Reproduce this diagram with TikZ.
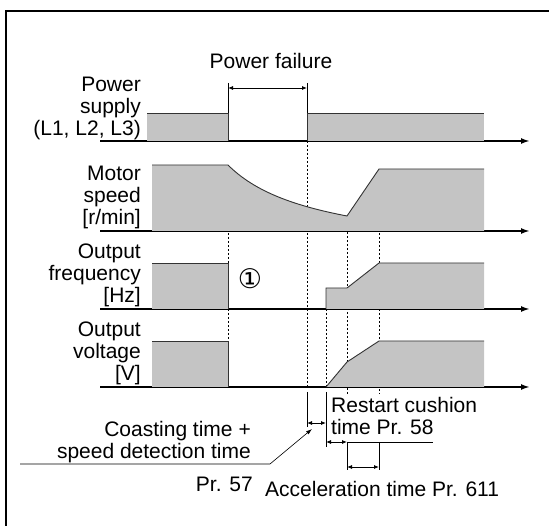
\documentclass[tikz,border=0pt]{standalone}
\usepackage{fontspec}
\setmainfont{Liberation Sans}
\newfontfamily\symfont{DejaVu Sans}
\usepackage{xcolor}
\usetikzlibrary{arrows.meta}

\definecolor{wavegray}{RGB}{196,196,196}

\begin{document}
\begin{tikzpicture}[x=1pt, y=-1pt,
    wave/.style={fill=wavegray, draw=none},
    edge/.style={draw=black!80, line width=0.9pt},
    axis/.style={line width=1.8pt, -{Latex[length=9pt,width=6pt]}},
    guide/.style={line width=0.6pt, dash pattern=on 2.5pt off 1.5pt},
    dim/.style={line width=0.6pt},
    dimarr/.style={line width=0.8pt, {Latex[length=5pt,width=4pt]}-{Latex[length=5pt,width=4pt]}},
    lbl/.style={font=\fontsize{21}{22}\selectfont, inner sep=0pt},
  ]
  \useasboundingbox (0,0) rectangle (549,526);
  % frame
  \draw[line width=1.5pt] (6,526) -- (6,11) -- (549,11);

  % time axes
  \foreach \y in {141,231,309,387}
    \draw[axis] (100,\y) -- (530,\y);

  % dashed guides
  \draw[guide] (228,165) -- (228,341);
  \draw[guide] (307,141) -- (307,387);
  \draw[guide] (326,309) -- (326,387);
  \draw[guide] (347,216) -- (347,394);
  \draw[guide] (379,169) -- (379,394);

  % power supply
  \fill[wave] (147,141) rectangle (228,113);
  \fill[wave] (307,141) rectangle (484,113);
  \draw[edge] (147,113) -- (228,113) -- (228,141);
  \draw[edge] (307,141) -- (307,113) -- (484,113);

  % motor speed
  \fill[wave] (152,231) -- (152,165) -- (228,165)
    .. controls (255,192) and (295,206) .. (347,216)
    -- (379,169) -- (484,169) -- (484,231) -- cycle;
  \draw[edge] (152,165) -- (228,165)
    .. controls (255,192) and (295,206) .. (347,216)
    -- (379,169) -- (484,169);

  % output frequency
  \fill[wave] (152,309) rectangle (228,263);
  \draw[edge] (152,263) -- (228,263) -- (228,309);
  \fill[wave] (326,309) -- (326,288) -- (347,288) -- (379,263)
    -- (484,263) -- (484,309) -- cycle;
  \draw[edge] (326,309) -- (326,288) -- (347,288) -- (379,263) -- (484,263);

  % output voltage
  \fill[wave] (152,387) rectangle (228,341);
  \draw[edge] (152,341) -- (228,341) -- (228,387);
  \fill[wave] (326,387) -- (347,362) -- (379,341) -- (484,341)
    -- (484,387) -- cycle;
  \draw[edge] (326,387) -- (347,362) -- (379,341) -- (484,341);

  % power failure span
  \draw[dim] (228,83) -- (228,113);
  \draw[dim] (307,83) -- (307,113);
  \draw[dimarr] (228,88) -- (307,88);

  % times below
  \draw[dim] (307,392) -- (307,427);
  \draw[dim] (326,392) -- (326,447);
  \draw[dimarr] (307,423) -- (326,423);
  \draw[dimarr] (326,442) -- (347,442);
  \draw[dim] (347,442) -- (433,442);
  \draw[dim] (347,442) -- (347,470);
  \draw[dim] (379,442) -- (379,470);
  \draw[dimarr] (347,467) -- (379,467);
  \draw[dim, -{Latex[length=6pt,width=4pt]}] (20,464) -- (270,464) -- (312,429);

  % labels
  \node[lbl, align=right, anchor=south east] (psup) at (141,140) {Power\\supply\\(L1, L2, L3)};
  \node[lbl, align=right, anchor=south east] (mspd) at (141,229) {Motor\\speed\\{[r/min]}};
  \node[lbl, align=right, anchor=south east] (ofrq) at (141,307) {Output\\frequency\\{[Hz]}};
  \node[lbl, align=right, anchor=south east] (ovlt) at (141,385) {Output\\voltage\\{[V]}};
  \node[lbl] (pfail) at (271,61) {Power failure};
  \node[lbl, font=\symfont\fontsize{27}{27}\selectfont] (note1) at (250,279) {①};
  \node[lbl, align=left, anchor=north west] (rcush) at (331,397) {Restart cushion\\time Pr. 58};
  \node[lbl, align=right, anchor=east] (coast) at (251,442) {Coasting time +\\speed detection time};
  \node[lbl, anchor=east] (pr57) at (253,484) {Pr. 57};
  \node[lbl, anchor=west] (accel) at (265,489) {Acceleration time Pr. 611};
\end{tikzpicture}
\end{document}
